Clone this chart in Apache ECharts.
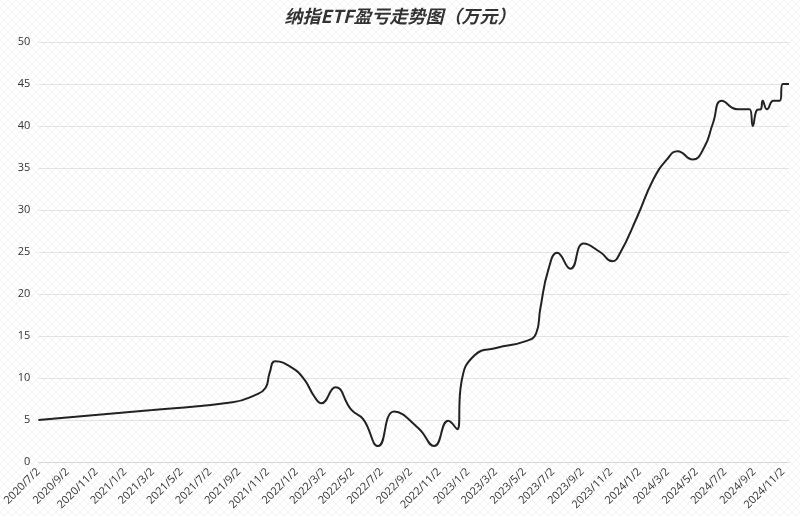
<!DOCTYPE html>
<html>
<head>
<meta charset="utf-8">
<script src="https://cdn.jsdelivr.net/npm/echarts@6/dist/echarts.min.js"></script>
<style>
  html, body { margin: 0; padding: 0; background: #fff; }
  #chart { width: 800px; height: 516px; }
</style>
</head>
<body>
<div id="chart"></div>
<script>
// x-axis tick labels (every two months)
let tickLabels = [
  "2020/7/2", "2020/9/2", "2020/11/2", "2021/1/2", "2021/3/2", "2021/5/2",
  "2021/7/2", "2021/9/2", "2021/11/2", "2022/1/2", "2022/3/2", "2022/5/2",
  "2022/7/2", "2022/9/2", "2022/11/2", "2023/1/2", "2023/3/2", "2023/5/2",
  "2023/7/2", "2023/9/2", "2023/11/2", "2024/1/2", "2024/3/2", "2024/5/2",
  "2024/7/2", "2024/9/2", "2024/11/2"
];

// dates of the recorded points
let dates = [
  "2020/7/2", "2021/3/2", "2021/8/19", "2021/10/7", "2021/10/28", "2021/11/6",
  "2021/11/18", "2021/12/24", "2022/1/19", "2022/2/9", "2022/2/24", "2022/3/26",
  "2022/4/29", "2022/5/24", "2022/6/25", "2022/7/29", "2022/9/19", "2022/10/22",
  "2022/11/21", "2022/12/10", "2022/12/19", "2023/1/16", "2023/3/5", "2023/4/30",
  "2023/5/27", "2023/6/5", "2023/6/22", "2023/7/11", "2023/8/8", "2023/9/5",
  "2023/10/10", "2023/11/5", "2023/11/22", "2023/12/28", "2024/1/31", "2024/2/29",
  "2024/3/23", "2024/4/24", "2024/5/19", "2024/6/6", "2024/6/25", "2024/7/28",
  "2024/8/23", "2024/8/30", "2024/9/8", "2024/9/16", "2024/9/20", "2024/9/29",
  "2024/10/13", "2024/10/26", "2024/11/2", "2024/11/15"
];

// profit / loss, 万元
let profit = [
  5.0, 6.2, 7.1, 8.0, 8.8, 10.6,
  12.0, 11.2, 9.8, 7.8, 7.0, 8.9,
  6.2, 5.1, 1.9, 6.0, 4.0, 1.9,
  4.9, 3.9, 9.5, 12.7, 13.6, 14.3,
  15.3, 18.3, 22.9, 24.9, 23.0, 26.0,
  25.0, 23.9, 24.9, 29.2, 33.6, 36.0,
  37.0, 36.0, 37.5, 40.3, 43.0, 42.0,
  42.0, 40.0, 41.9, 42.0, 43.0, 42.0,
  43.0, 43.0, 45.0, 45.0
];

let ts = (s) => +new Date(s);

// light cross-hatch background
let tile = document.createElement("canvas");
tile.width = 8;
tile.height = 8;
let ctx = tile.getContext("2d");
ctx.fillStyle = "#ffffff";
ctx.fillRect(0, 0, 8, 8);
ctx.strokeStyle = "rgba(0,0,0,0.05)";
ctx.lineWidth = 1;
ctx.beginPath();
ctx.moveTo(0, 8); ctx.lineTo(8, 0);
ctx.moveTo(0, 0); ctx.lineTo(8, 8);
ctx.stroke();

let chart = echarts.init(document.getElementById("chart"));
chart.setOption({
  backgroundColor: { image: tile, repeat: "repeat" },
  title: {
    text: "纳指ETF盈亏走势图（万元）",
    left: "center",
    top: 2,
    textStyle: {
      fontFamily: "Noto Sans CJK SC",
      fontSize: 18,
      fontWeight: "bold",
      fontStyle: "italic",
      color: "#333"
    }
  },
  grid: { left: 35, right: 11, top: 42, bottom: 54 },
  xAxis: {
    type: "value",
    min: ts(dates[0]),
    max: ts(dates[dates.length - 1]),
    axisLine: { lineStyle: { color: "#d9d9d9" } },
    axisTick: { show: false },
    splitLine: { show: false },
    axisLabel: {
      customValues: tickLabels.map(ts),
      rotate: 45,
      fontSize: 11,
      color: "#333",
      fontFamily: "Open Sans",
      showMinLabel: true,
      showMaxLabel: true,
      formatter: (v) => {
        let d = new Date(v);
        return d.getFullYear() + "/" + (d.getMonth() + 1) + "/" + d.getDate();
      }
    }
  },
  yAxis: {
    type: "value",
    min: 0,
    max: 50,
    interval: 5,
    axisLine: { show: false },
    axisTick: { show: false },
    axisLabel: { fontSize: 11, color: "#333", fontFamily: "Open Sans" },
    splitLine: { lineStyle: { color: "#e3e3e3" } }
  },
  series: [
    {
      type: "line",
      smooth: true,
      showSymbol: false,
      data: dates.map((d, i) => [ts(d), profit[i]]),
      lineStyle: { color: "#222", width: 2 },
      itemStyle: { color: "#222" }
    }
  ]
});
</script>
</body>
</html>
